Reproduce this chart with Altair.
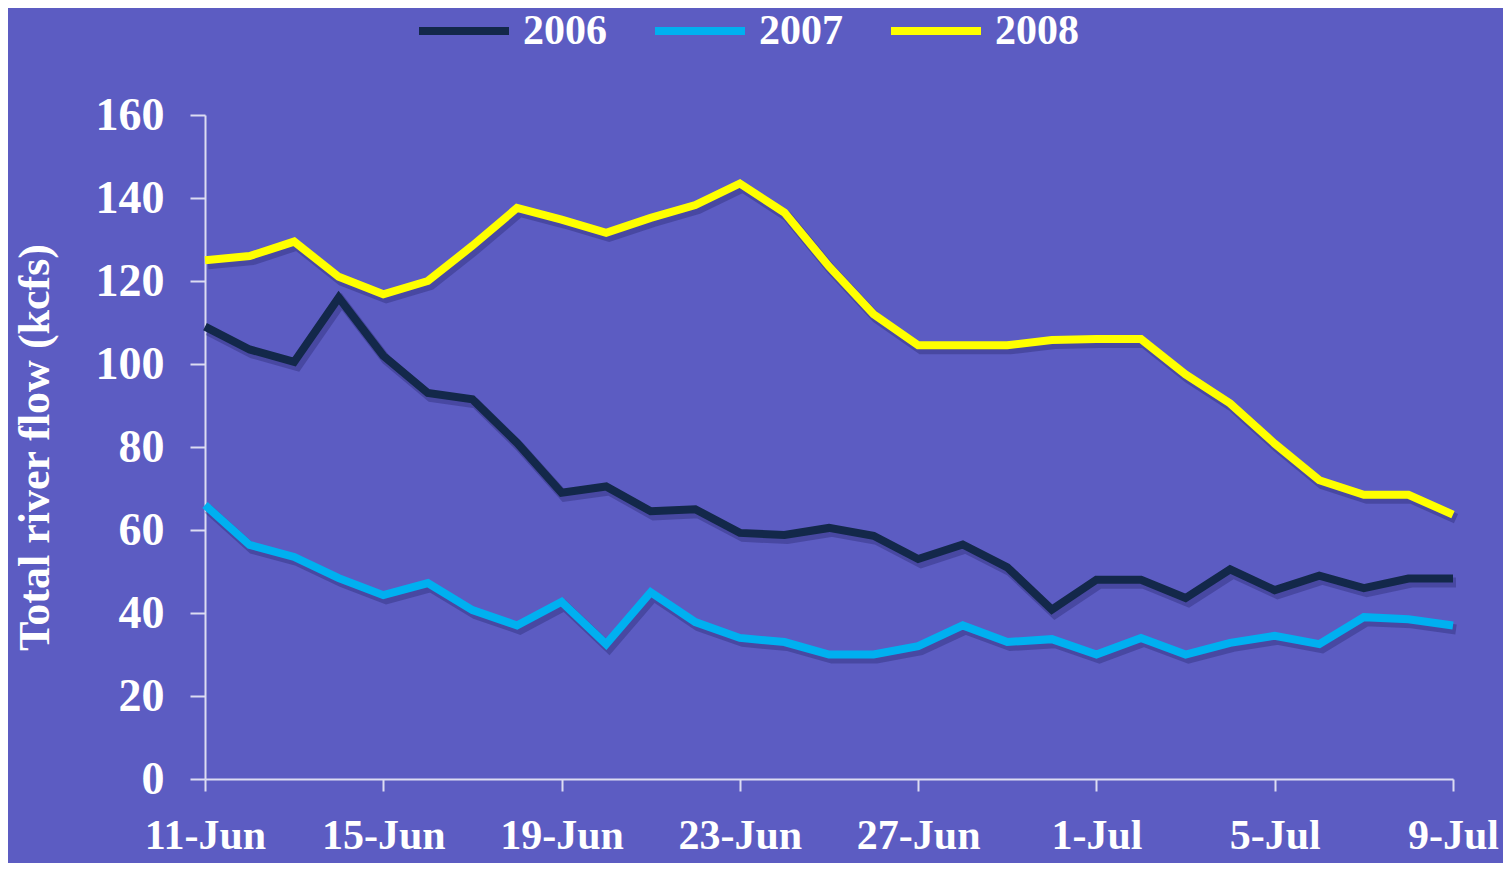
import altair as alt
import pandas as pd

dates = pd.date_range("2008-06-11", "2008-07-09", freq="D").strftime("%Y-%m-%d").tolist()

flow_2006 = [109, 103.5, 100.5, 116, 102, 93, 91.5, 81, 69, 70.5, 64.5, 65, 59.3, 58.8, 60.5,
             58.6, 53, 56.5, 51, 40.8, 48, 48, 43.6, 50.5, 45.5, 49, 46, 48.3, 48.3]
flow_2007 = [66, 56.4, 53.5, 48.4, 44.3, 47.2, 40.7, 37, 42.7, 32.5, 45, 37.8, 34, 33, 30,
             30, 32, 37, 33, 33.7, 30, 34, 30, 32.8, 34.5, 32.5, 39, 38.5, 37]
flow_2008 = [125, 126, 129.5, 121, 116.8, 120, 128.5, 137.6, 134.8, 131.6, 135.2, 138.3, 143.5,
             136.5, 123.5, 112, 104.5, 104.5, 104.5, 105.8, 106, 106, 97.5, 90.5, 80.8, 72,
             68.5, 68.5, 63.7]

series = ["2006", "2007", "2008"]
colors = ["#13284a", "#00b0f0", "#ffff00"]
tick_dates = ["2008-06-11", "2008-06-15", "2008-06-19", "2008-06-23",
              "2008-06-27", "2008-07-01", "2008-07-05", "2008-07-09"]
y_ticks = [0, 20, 40, 60, 80, 100, 120, 140, 160]

rows = []
for name, vals in zip(series, [flow_2006, flow_2007, flow_2008]):
    for d, v in zip(dates, vals):
        rows.append({"date": d, "year": name, "flow": v})
df = pd.DataFrame(rows)

def dt(s):
    y, m, d = (int(p) for p in s.split("-"))
    return alt.DateTime(year=y, month=m, date=d, utc=True)

FONT = "Liberation Serif"
AXIS_COLOR = "#dcdcf2"

x_enc = alt.X(
    "date:T",
    scale=alt.Scale(type="utc", domain=[dt(dates[0]), dt(dates[-1])]),
    axis=alt.Axis(
        values=[dt(s) for s in tick_dates], format="%-d-%b", title=None,
        grid=False, domainColor=AXIS_COLOR, domainWidth=2, tickColor=AXIS_COLOR,
        tickWidth=2, tickSize=12, labelPadding=24, labelFontSize=42,
        labelFont=FONT, labelFontWeight="bold", labelColor="white",
        labelOverlap=False, labelFlush=False,
    ),
)
y_enc = alt.Y(
    "flow:Q",
    scale=alt.Scale(domain=[0, 160], nice=False),
    axis=alt.Axis(
        values=y_ticks, title="Total river flow (kcfs)", grid=False,
        domainColor=AXIS_COLOR, domainWidth=2, tickColor=AXIS_COLOR, tickWidth=2,
        tickSize=15, labelPadding=26, labelFontSize=46, labelFont=FONT,
        labelFontWeight="bold", labelColor="white",
        titleFont=FONT, titleFontSize=44, titleFontWeight="bold", titleColor="white",
        titleX=-170, titleY=332, titleAngle=-90, titleAlign="center", titleBaseline="middle",
    ),
)

shadow = alt.Chart(df).mark_line(
    color="#1c1c5a", opacity=0.3, strokeWidth=10, xOffset=3, yOffset=4
).encode(x=x_enc, y=y_enc, detail="year:N")

lines = alt.Chart(df).mark_line(strokeWidth=8).encode(
    x=x_enc,
    y=y_enc,
    color=alt.Color(
        "year:N",
        scale=alt.Scale(domain=series, range=colors),
        legend=alt.Legend(
            title=None, orient="none", legendX=210, legendY=-133, direction="horizontal",
            columns=3, symbolType="stroke", symbolSize=8100, symbolStrokeWidth=8,
            labelFontSize=42, labelFont=FONT, labelFontWeight="bold", labelColor="white",
            labelOffset=10, columnPadding=32, padding=0,
        ),
    ),
)

chart = alt.layer(shadow, lines).properties(
    width=1248, height=664,
    padding={"left": 197, "top": 107, "right": 50, "bottom": 84},
    autosize=alt.AutoSizeParams(type="none"),
    background="#5c5cc2",
).configure_view(strokeWidth=0)

chart.save("out.html", embed_options={"renderer": "svg", "actions": False})
